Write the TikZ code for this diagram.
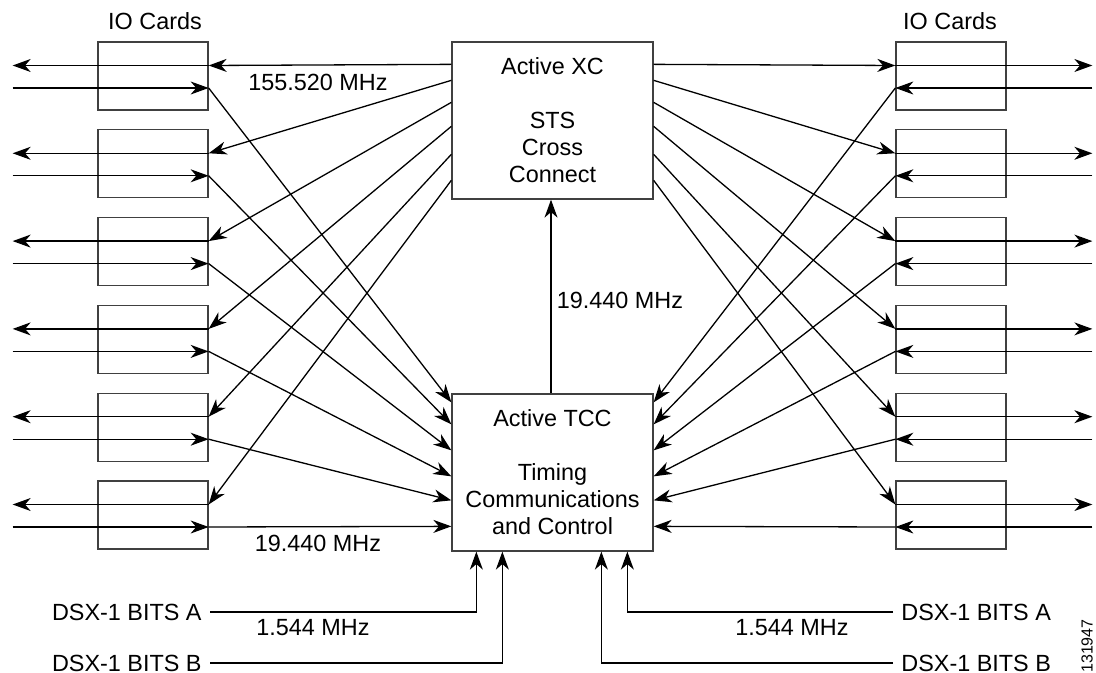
\documentclass[tikz,border=0pt]{standalone}
\usepackage{fontspec}
\setmainfont{Liberation Sans}
\usetikzlibrary{arrows.meta, positioning, calc}

\begin{document}
\begin{tikzpicture}[x=0.5pt, y=-0.5pt,
    every node/.style={font=\fontsize{11.7}{13.5}\selectfont},
    card/.style={draw=black!75, line width=0.65pt, minimum width=55pt,
                 minimum height=34pt, inner sep=0pt},
    unit/.style={draw=black!75, line width=0.65pt, minimum width=100.5pt,
                 minimum height=78.5pt, inner sep=0pt, align=center},
    sig/.style={-{Stealth[length=9pt, width=6.5pt, inset=2.8pt]}, line width=0.65pt}]
  \useasboundingbox (0,0) rectangle (1096,673);

  % cross connect and timing units
  \node[unit] (xc) at (552.5,120.5) {Active XC\\[13.5pt]STS\\Cross\\Connect};
  \node[unit] (tcc) at (552.5,472.5) {Active TCC\\[13.5pt]Timing\\Communications\\and Control};
  \draw[sig] (tcc.north -| 551,0) -- (xc.south -| 551,0);
  \node (fmid) at (620,300) {19.440 MHz};

  % IO cards, both sides
  \foreach \i/\y in {1/76, 2/163.8, 3/251.6, 4/339.4, 5/427.2, 6/515} {
    \node[card] (L\i) at (153,\y) {};
    \node[card] (R\i) at (951,\y) {};
    \coordinate (Lo\i) at ($(L\i.east)+(0,-10.5)$);
    \coordinate (Li\i) at ($(L\i.east)+(0,12)$);
    \coordinate (Ro\i) at ($(R\i.west)+(0,-10.5)$);
    \coordinate (Ri\i) at ($(R\i.west)+(0,12)$);
    \coordinate (Lxo\i) at ($(Lo\i)+(-196,0)$);
    \coordinate (Lxi\i) at ($(Li\i)+(-196,0)$);
    \coordinate (Rxo\i) at ($(Ro\i)+(197,0)$);
    \coordinate (Rxi\i) at ($(Ri\i)+(197,0)$);
    \draw[sig] (Lo\i) -- (Lxo\i);
    \draw[sig] (Lxi\i) -- (Li\i);
    \draw[sig] (Ro\i) -- (Rxo\i);
    \draw[sig] (Rxi\i) -- (Ri\i);
  }
  \node (iol) at ($(L1.north)+(2,-20)$) {IO Cards};
  \node (ior) at ($(R1.north)+(-1,-20)$) {IO Cards};

  % fan out from XC, fan in to TCC
  \foreach \i/\a/\b in {1/23/9, 2/39/31, 3/61/57, 4/85/83, 5/113/107, 6/139/133} {
    \coordinate (xl\i) at ($(xc.north west)+(0,\a)$);
    \coordinate (xr\i) at ($(xc.north east)+(0,\a)$);
    \coordinate (tl\i) at ($(tcc.north west)+(0,\b)$);
    \coordinate (tr\i) at ($(tcc.north east)+(0,\b)$);
    \draw[sig] (xl\i) -- (Lo\i);
    \draw[sig] (xr\i) -- (Ro\i);
    \draw[sig] (Li\i) -- (tl\i);
    \draw[sig] (Ri\i) -- (tr\i);
  }
  \node (ftop) at (318,82) {155.520 MHz};
  \node (fbot) at (318,543) {19.440 MHz};

  % BITS inputs
  \node[anchor=east, inner xsep=4pt] (bal) at (210,612) {DSX-1 BITS A};
  \node[anchor=east, inner xsep=4pt] (bbl) at (210,663) {DSX-1 BITS B};
  \node[anchor=west, inner xsep=4pt] (bar) at (893,612) {DSX-1 BITS A};
  \node[anchor=west, inner xsep=4pt] (bbr) at (893,663) {DSX-1 BITS B};
  \draw[sig] (bal.east) -| ($(tcc.south west)+(25,0)$);
  \draw[sig] (bbl.east) -| ($(tcc.south west)+(51,0)$);
  \draw[sig] (bar.west) -| ($(tcc.south west)+(176,0)$);
  \draw[sig] (bbr.west) -| ($(tcc.south west)+(150,0)$);
  \node (fbl) at (313,628) {1.544 MHz};
  \node (fbr) at (792,628) {1.544 MHz};

  \node[rotate=90, font=\fontsize{8}{9}\selectfont] (figno) at (1087,646) {131947};
\end{tikzpicture}
\end{document}
